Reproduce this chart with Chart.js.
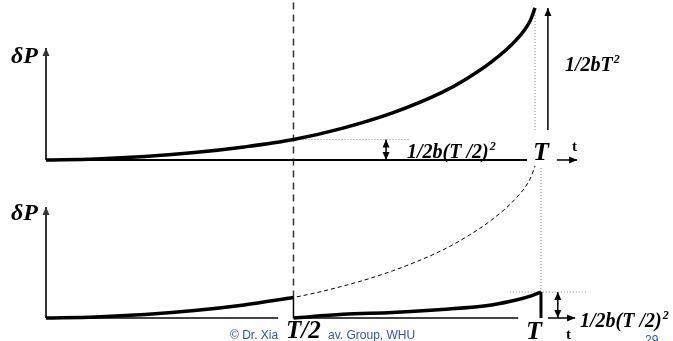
<!DOCTYPE html>
<html>
<head>
<meta charset="utf-8">
<script src="https://cdn.jsdelivr.net/npm/chart.js@4.4.0/dist/chart.umd.min.js"></script>
<style>
  html, body { margin: 0; background: #fff; }
  canvas { display: block; }
</style>
</head>
<body>
<canvas id="c" width="673" height="341"></canvas>
<script>
// time, in units of T
var tValues = [0, 0.1, 0.2, 0.3, 0.4, 0.5, 0.6, 0.7, 0.8, 0.85, 0.9, 0.95, 0.978, 0.988];
// error growth dP, in units of the value reached at T (1/2bT^2)
var dpValues = [0, 0.007, 0.023, 0.049, 0.086, 0.135, 0.21, 0.31, 0.445, 0.535, 0.645, 0.79, 0.915, 1.0];
// error restarting after the reset at T/2
var tRestart = [0.5, 0.6, 0.7, 0.8, 0.9, 0.95, 0.98, 1.0];
var dpRestart = [0, 0.024, 0.036, 0.056, 0.086, 0.118, 0.145, 0.171];

var half = tValues.indexOf(0.5);
var dpHalf = dpValues[half];
var dpEnd = dpRestart[dpRestart.length - 1];

function pts(xs, ys) {
  return xs.map(function (x, i) { return { x: x, y: ys[i] }; });
}

function line(axis, data, opt) {
  return Object.assign({
    yAxisID: axis,
    data: data,
    showLine: true,
    pointRadius: 0,
    borderColor: '#000',
    borderWidth: 1.5,
    fill: false,
    tension: 0
  }, opt || {});
}

var curve = { borderWidth: 3.5, cubicInterpolationMode: 'monotone' };
var dotted = { borderColor: '#888', borderWidth: 1, borderDash: [1, 2] };
var axisLine = { borderColor: '#333', borderWidth: 2 };

var datasets = [
  // top panel
  line('yTop', pts(tValues, dpValues), curve),
  line('yTop', [{ x: 0, y: 0 }, { x: 0, y: 0.737 }], Object.assign({ arrow: 'end' }, axisLine)),
  line('yTop', [{ x: 0, y: 0 }, { x: 0.972, y: 0 }], { borderWidth: 2 }),
  line('yTop', [{ x: 1.032, y: 0 }, { x: 1.073, y: 0 }], { arrow: 'end' }),
  line('yTop', [{ x: 0.5, y: dpHalf }, { x: 0.735, y: dpHalf }], dotted),
  line('yTop', [{ x: 0.687, y: 0 }, { x: 0.687, y: dpHalf }], { arrow: 'both' }),
  line('yTop', [{ x: 0.988, y: 0.197 }, { x: 0.988, y: 1 }], dotted),
  line('yTop', [{ x: 1.014, y: 0.197 }, { x: 1.014, y: 1 }], { arrow: 'end' }),

  // bottom panel
  line('yBot', pts(tValues, dpValues), { borderWidth: 1, borderDash: [4, 3], cubicInterpolationMode: 'monotone' }),
  line('yBot', pts(tValues.slice(0, half + 1), dpValues.slice(0, half + 1)), curve),
  line('yBot', pts(tRestart, dpRestart), curve),
  line('yBot', [{ x: 0, y: 0 }, { x: 0, y: 0.73 }], Object.assign({ arrow: 'end' }, axisLine)),
  line('yBot', [{ x: 0, y: 0 }, { x: 0.469, y: 0 }], { borderColor: '#444', borderWidth: 2 }),
  line('yBot', [{ x: 0.5, y: 0 }, { x: 0.954, y: 0 }], { borderColor: '#444', borderWidth: 2 }),
  line('yBot', [{ x: 0.5, y: 0 }, { x: 0.5, y: dpHalf }], {}),
  line('yBot', [{ x: 0.5, y: dpHalf }, { x: 0.5, y: 2.0921 }], { borderColor: '#333', borderDash: [7, 5] }),
  line('yBot', [{ x: 1, y: 0 }, { x: 1, y: dpEnd }], { borderWidth: 3 }),
  line('yBot', [{ x: 0.937, y: dpEnd }, { x: 1.093, y: dpEnd }], dotted),
  line('yBot', [{ x: 1, y: dpEnd }, { x: 1, y: 1 }], dotted),
  line('yBot', [{ x: 1.034, y: 0 }, { x: 1.034, y: dpEnd }], { arrow: 'both' }),
  line('yBot', [{ x: 1.014, y: 0 }, { x: 1.069, y: 0 }], { arrow: 'end' })
];

function head(ctx, from, to, color) {
  var a = Math.atan2(to.y - from.y, to.x - from.x);
  ctx.save();
  ctx.translate(to.x, to.y);
  ctx.rotate(a);
  ctx.fillStyle = color;
  ctx.beginPath();
  ctx.moveTo(0, 0);
  ctx.lineTo(-8, -3.5);
  ctx.lineTo(-8, 3.5);
  ctx.closePath();
  ctx.fill();
  ctx.restore();
}

var arrows = {
  id: 'arrows',
  afterDatasetsDraw: function (chart) {
    var ctx = chart.ctx;
    chart.data.datasets.forEach(function (ds, i) {
      if (!ds.arrow) return;
      var p = chart.getDatasetMeta(i).data;
      var a = p[0], b = p[p.length - 1];
      head(ctx, a, b, ds.borderColor);
      if (ds.arrow === 'both') head(ctx, b, a, ds.borderColor);
    });
  }
};

function sup(ctx, text, s, x, y, size) {
  ctx.font = 'italic bold ' + size + 'px "Liberation Serif"';
  ctx.fillText(text, x, y);
  var w = ctx.measureText(text).width;
  ctx.font = 'italic bold ' + Math.round(size * 0.6) + 'px "Liberation Serif"';
  ctx.fillText(s, x + w + 1, y - size * 0.4);
}

var labels = {
  id: 'labels',
  afterDraw: function (chart) {
    var ctx = chart.ctx;
    ctx.save();
    ctx.fillStyle = '#000';
    ctx.textBaseline = 'alphabetic';
    ctx.textAlign = 'left';

    ctx.font = 'italic bold 24px "Liberation Serif"';
    ctx.fillText('δP', 11, 63);
    ctx.fillText('δP', 11, 220);

    sup(ctx, '1/2bT', '2', 565, 71, 20);
    sup(ctx, '1/2b(T /2)', '2', 407, 158, 20);
    sup(ctx, '1/2b(T /2)', '2', 580, 327, 20);

    ctx.font = 'italic bold 26px "Liberation Serif"';
    ctx.fillText('T', 533, 160);
    ctx.fillText('T', 526, 339);
    ctx.font = 'italic bold 25px "Liberation Serif"';
    ctx.fillText('T/2', 286, 338);

    ctx.font = 'bold 15px "Liberation Serif"';
    ctx.fillText('t', 572, 151);
    ctx.fillText('t', 566, 339);

    ctx.fillStyle = '#3355aa';
    ctx.font = '12px "Liberation Sans"';
    ctx.fillText('© Dr. Xia', 230, 339);
    ctx.fillText('av. Group, WHU', 328, 339);
    ctx.fillText('29', 645, 344);
    ctx.restore();
  }
};

new Chart(document.getElementById('c'), {
  type: 'scatter',
  data: { datasets: datasets },
  options: {
    responsive: false,
    animation: false,
    layout: { padding: 0 },
    plugins: { legend: { display: false }, tooltip: { enabled: false } },
    scales: {
      x: { type: 'linear', min: -0.0929, max: 1.2667, display: false },
      yTop: { type: 'linear', min: -1.1908, max: 1.0526, display: false },
      yBot: { type: 'linear', min: -0.1513, max: 2.0921, display: false }
    }
  },
  plugins: [arrows, labels]
});
</script>
</body>
</html>
